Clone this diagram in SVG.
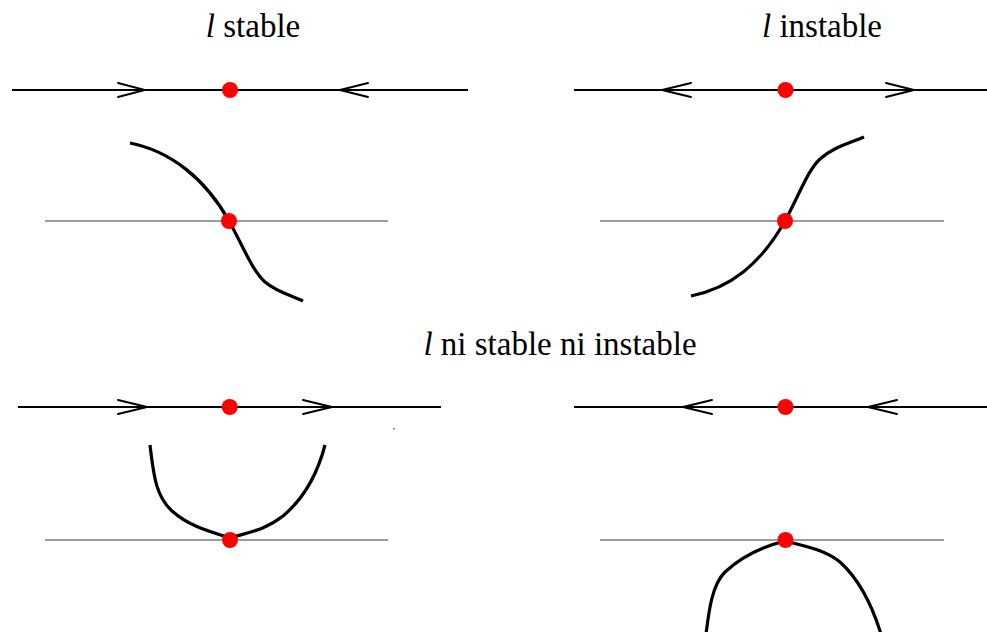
<svg xmlns="http://www.w3.org/2000/svg" width="987" height="632" viewBox="0 0 987 632">
<style>
.axis{stroke:#000;stroke-width:1.9;fill:none}
.thin{stroke:#3a3a3a;stroke-width:1;fill:none}
.arr{stroke:#000;stroke-width:1.9;fill:none;stroke-linecap:round;stroke-linejoin:miter}
.curve{stroke:#000;stroke-width:3.2;fill:none;stroke-linecap:butt}
.pt{fill:#ff0000}
.lbl{font-size:33px;fill:#000;text-anchor:middle}
</style>
<g id="title-stable"><text class="lbl" font-family="'Liberation Serif','Times New Roman',serif" x="253" y="37"><tspan font-style="italic">l</tspan> stable</text></g>
<g id="title-instable"><text class="lbl" font-family="'Liberation Serif','Times New Roman',serif" x="822" y="37"><tspan font-style="italic">l</tspan> instable</text></g>
<g id="title-neither"><text class="lbl" font-family="'Liberation Serif','Times New Roman',serif" x="560" y="355"><tspan font-style="italic">l</tspan> ni stable ni instable</text></g>

<g id="connectors">
<line class="axis" x1="12" y1="90" x2="468" y2="90"/>
<path class="arr" d="M118,83 L145,90 L118,97"/>
<path class="arr" d="M368,83 L340,90 L368,97"/>
<line class="axis" x1="574" y1="90" x2="987" y2="90"/>
<path class="arr" d="M691,83 L662,90 L691,97"/>
<path class="arr" d="M886,83 L914,90 L886,97"/>
<line class="axis" x1="18" y1="407" x2="441" y2="407"/>
<path class="arr" d="M118,400 L147,407 L118,414"/>
<path class="arr" d="M303,400 L332,407 L303,414"/>
<line class="axis" x1="574" y1="407" x2="987" y2="407"/>
<path class="arr" d="M712,400 L683,407 L712,414"/>
<path class="arr" d="M897,400 L868,407 L897,414"/>

<line class="thin" x1="45" y1="221" x2="388" y2="221"/>
<line class="thin" x1="600" y1="221" x2="944" y2="221"/>
<line class="thin" x1="45" y1="540" x2="388" y2="540"/>
<line class="thin" x1="600" y1="540" x2="944" y2="540"/>

<path class="curve" d="M130,143 C170,151 205,178 229,221 C245,250 252,270 265,282 C277,292 290,295 303,301"/>
<path class="curve" d="M691,296 C730,288 760,265 785,221 C800,193 808,170 820,159 C832,148 845,145 864,137"/>
<path class="curve" d="M150,445 C154,480 157,497 172,511 C190,527 212,532 230,538 C250,532 265,530 283,516 C302,500 317,476 325,445"/>
<path class="curve" d="M706,634 C709,610 712,585 725,572 C742,556 765,546 785,541 C805,546 825,550 840,562 C860,580 872,605 881,634"/>
<circle cx="394" cy="428.7" r="0.7" fill="#000"/>
</g>

<g id="points">
<circle class="pt" cx="230" cy="90" r="8"/>
<circle class="pt" cx="785.5" cy="90" r="8"/>
<circle class="pt" cx="229.7" cy="407" r="8"/>
<circle class="pt" cx="785.5" cy="407" r="8"/>
<circle class="pt" cx="229" cy="221" r="8"/>
<circle class="pt" cx="785" cy="221" r="8"/>
<circle class="pt" cx="230" cy="540" r="8"/>
<circle class="pt" cx="785.5" cy="540" r="8"/>
</g>
</svg>
